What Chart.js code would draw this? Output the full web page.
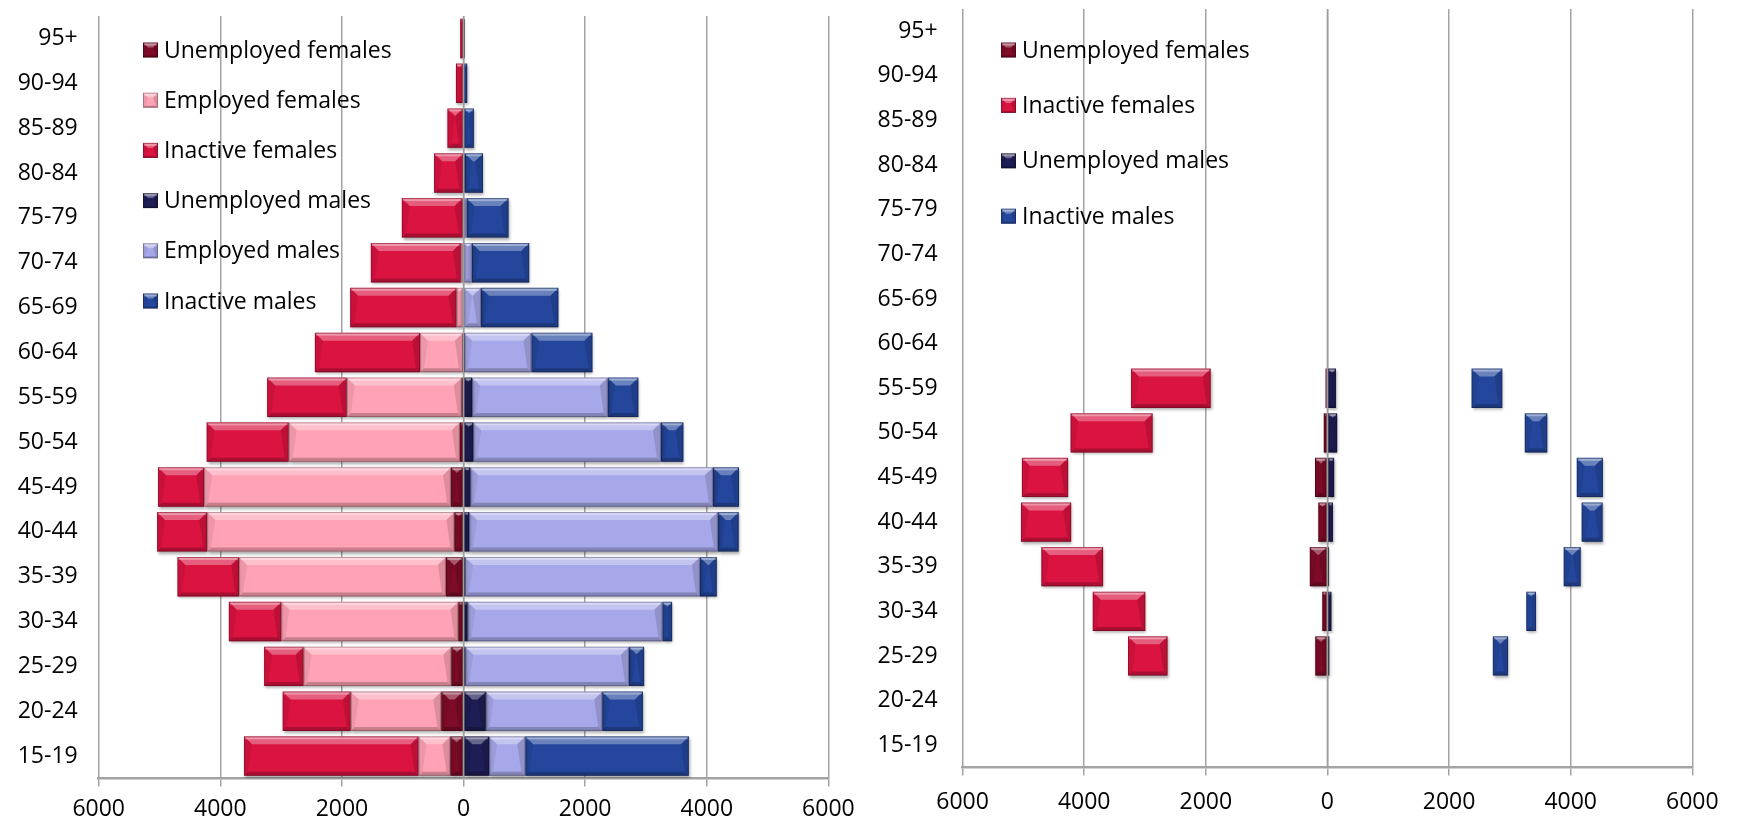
<!DOCTYPE html>
<html lang="en">

<head>
    <meta charset="UTF-8">
    <meta name="viewport" content="width=device-width, initial-scale=1.0">
    <script src="https://cdn.jsdelivr.net/npm/chart.js@4.4.1/dist/chart.umd.min.js"></script>
    <title>Population by age and labour status</title>
    <style>
        body { margin: 0; background: #ffffff; }
        .janela { position: relative; width: 1739px; height: 829px; }
        #box_esq { position: absolute; left: 0; top: 0; width: 880px; height: 829px; z-index: 2; }
        #box_dir { position: absolute; left: 850px; top: 0; width: 889px; height: 829px; z-index: 1; }
    </style>
</head>

<body>
    <div class="janela">
        <div id="box_esq"><canvas id="grafico_esq"></canvas></div>
        <div id="box_dir"><canvas id="grafico_dir"></canvas></div>
    </div>

<script>
    // age groups, top of the chart first
    var ages = ['95+', '90-94', '85-89', '80-84', '75-79', '70-74', '65-69', '60-64', '55-59',
        '50-54', '45-49', '40-44', '35-39', '30-34', '25-29', '20-24', '15-19'];

    // values in thousands (females drawn to the left)
    var unemployedFemales = [0, 0, 0, 0, 0, 0, 0, 10, 30, 60, 205, 150, 290, 85, 200, 365, 215];
    var employedFemales   = [0, 0, 0, 5, 15, 45, 115, 705, 1890, 2815, 4060, 4065, 3400, 2910, 2430, 1490, 525];
    var inactiveFemales   = [55, 125, 265, 480, 1000, 1480, 1750, 1730, 1310, 1350, 760, 825, 1015, 865, 650, 1120, 2870];
    var unemployedMales   = [0, 0, 0, 0, 0, 0, 0, 10, 140, 160, 110, 90, 25, 65, 30, 365, 420];
    var employedMales     = [0, 0, 0, 20, 50, 135, 285, 1105, 2230, 3085, 3990, 4090, 3860, 3205, 2690, 1915, 595];
    var inactiveMales     = [8, 60, 170, 300, 690, 945, 1275, 1005, 505, 370, 430, 345, 280, 160, 250, 670, 2690];

    // the right chart only keeps these age groups
    var rightAges = ['55-59', '50-54', '45-49', '40-44', '35-39', '30-34', '25-29'];

    var xTicks = [-6000, -4000, -2000, 0, 2000, 4000, 6000];

    var cores = {
        uF: '#7e0b27',
        eF: '#ffa2b5',
        iF: '#da1340',
        uM: '#1e1d55',
        eM: '#a7a8e9',
        iM: '#24479d'
    };

    Chart.defaults.font.family = "'Open Sans', sans-serif";
    Chart.defaults.color = '#000000';

    function neg(arr) {
        return arr.map(function (v) { return v == null ? null : -v; });
    }

    function soDireita(arr) {
        return arr.map(function (v, i) { return rightAges.indexOf(ages[i]) >= 0 ? v : null; });
    }

    function serie(label, data, cor, noLegend) {
        return {
            label: label,
            data: data,
            backgroundColor: cor,
            cor: cor,
            noLegend: !!noLegend,
            borderWidth: 0,
            barPercentage: 0.88,
            categoryPercentage: 1.0
        };
    }

    // draws the bevel look on every bar, using the bars placed by Chart.js
    function bevel(ctx, l, t, r, b, d, db) {
        var w = r - l, h = b - t;
        d = Math.min(d, w / 2, h / 2);
        db = Math.min(db, w / 2, h / 2);
        ctx.fillStyle = 'rgba(255,255,255,0.32)';
        ctx.beginPath();
        ctx.moveTo(l, t); ctx.lineTo(r, t); ctx.lineTo(r - d, t + d); ctx.lineTo(l + d, t + d);
        ctx.closePath(); ctx.fill();
        ctx.fillStyle = 'rgba(255,255,255,0.35)';
        ctx.fillRect(l + 1, t + 1, Math.max(w - 2, 0), Math.min(2, h));
        ctx.fillStyle = 'rgba(0,0,0,0.22)';
        ctx.beginPath();
        ctx.moveTo(l, b); ctx.lineTo(r, b); ctx.lineTo(r - db, b - db); ctx.lineTo(l + db, b - db);
        ctx.closePath(); ctx.fill();
        ctx.fillStyle = 'rgba(0,0,0,0.07)';
        ctx.beginPath();
        ctx.moveTo(l, t); ctx.lineTo(l + d, t + d); ctx.lineTo(l + db, b - db); ctx.lineTo(l, b);
        ctx.closePath(); ctx.fill();
        ctx.fillStyle = 'rgba(0,0,0,0.13)';
        ctx.beginPath();
        ctx.moveTo(r, t); ctx.lineTo(r - d, t + d); ctx.lineTo(r - db, b - db); ctx.lineTo(r, b);
        ctx.closePath(); ctx.fill();
        ctx.strokeStyle = 'rgba(0,0,0,0.25)';
        ctx.lineWidth = 1;
        ctx.strokeRect(l + 0.5, t + 0.5, Math.max(w - 1, 0), Math.max(h - 1, 0));
    }

    var pluginBarras = {
        id: 'barras3d',
        beforeDatasetsDraw: function (chart) {
            var ctx = chart.ctx;
            ctx.save();
            ctx.shadowColor = 'rgba(0,0,0,0.35)';
            ctx.shadowBlur = 3;
            ctx.shadowOffsetX = 1;
            ctx.shadowOffsetY = 2;
        },
        afterDatasetsDraw: function (chart) {
            var ctx = chart.ctx;
            ctx.restore();
            ctx.save();
            chart.data.datasets.forEach(function (ds, i) {
                if (ds.backgroundColor === 'rgba(0,0,0,0)') return;
                chart.getDatasetMeta(i).data.forEach(function (el, j) {
                    if (ds.data[j] == null || ds.data[j] === 0) return;
                    var p = el.getProps(['x', 'y', 'base', 'height'], true);
                    var l = Math.min(p.x, p.base), r = Math.max(p.x, p.base);
                    var t = p.y - p.height / 2, b = p.y + p.height / 2;
                    bevel(ctx, l, t, r, b, 8, 4);
                });
            });
            // axis at zero drawn over the bars
            var x0 = chart.scales.x.getPixelForValue(0);
            ctx.strokeStyle = '#9c9c9c';
            ctx.lineWidth = 1.5;
            ctx.beginPath();
            ctx.moveTo(x0, chart.chartArea.top);
            ctx.lineTo(x0, chart.chartArea.bottom);
            ctx.stroke();
            ctx.restore();
        },
        afterDraw: function (chart) {
            var o = chart.options.plugins.legendaCustom;
            var ctx = chart.ctx;
            var itens = chart.data.datasets.filter(function (ds) { return !ds.noLegend; });
            ctx.save();
            ctx.font = "23px 'Open Sans', sans-serif";
            ctx.textBaseline = 'middle';
            ctx.textAlign = 'left';
            itens.forEach(function (ds, k) {
                var y = o.y + k * o.step;
                ctx.fillStyle = ds.cor;
                ctx.fillRect(o.x, y - 7.5, 15, 15);
                bevel(ctx, o.x, y - 7.5, o.x + 15, y + 7.5, 5, 2);
                ctx.fillStyle = '#000000';
                ctx.fillText(ds.label, o.x + 21, y + 1);
            });
            ctx.restore();
        }
    };

    function opcoes(cfg) {
        return {
            indexAxis: 'y',
            responsive: true,
            maintainAspectRatio: false,
            animation: false,
            layout: { padding: { top: cfg.top, right: cfg.right, left: 0, bottom: 0 } },
            plugins: {
                legend: { display: false },
                tooltip: { enabled: false },
                legendaCustom: cfg.legenda
            },
            scales: {
                x: {
                    stacked: true,
                    min: -6000,
                    max: 6000,
                    afterBuildTicks: function (scale) {
                        scale.ticks = xTicks.map(function (v) { return { value: v }; });
                    },
                    ticks: {
                        font: { size: 23 },
                        color: '#000000',
                        padding: cfg.xPad,
                        maxRotation: 0,
                        callback: function (v) { return Math.abs(v); }
                    },
                    grid: { color: '#a3a3a3', lineWidth: 1.5, tickLength: 8, tickColor: '#a3a3a3' },
                    border: { display: true, color: '#a3a3a3', width: 2.5 },
                    afterFit: function (scale) {
                        scale.height = cfg.xHeight;
                        scale.paddingLeft = 0;
                        scale.paddingRight = 0;
                    }
                },
                y: {
                    stacked: true,
                    grid: { display: false, drawTicks: false },
                    border: { display: false },
                    ticks: { font: { size: 23 }, color: '#000000', padding: cfg.yPad, autoSkip: false },
                    afterFit: function (scale) {
                        scale.width = cfg.yWidth;
                        scale.paddingTop = 0;
                        scale.paddingBottom = 0;
                    }
                }
            }
        };
    }

    new Chart(document.getElementById('grafico_esq'), {
        type: 'bar',
        data: {
            labels: ages,
            datasets: [
                serie('Unemployed females', neg(unemployedFemales), cores.uF),
                serie('Employed females', neg(employedFemales), cores.eF),
                serie('Inactive females', neg(inactiveFemales), cores.iF),
                serie('Unemployed males', unemployedMales, cores.uM),
                serie('Employed males', employedMales, cores.eM),
                serie('Inactive males', inactiveMales, cores.iM)
            ]
        },
        options: opcoes({
            top: 16, right: 51.6, yWidth: 98.7, yPad: 21, xHeight: 50.5, xPad: 9,
            legenda: { x: 143, y: 50, step: 50.2 }
        }),
        plugins: [pluginBarras]
    });

    // right chart: same stacks, employed parts kept but not painted
    new Chart(document.getElementById('grafico_dir'), {
        type: 'bar',
        data: {
            labels: ages,
            datasets: [
                serie('Unemployed females', neg(soDireita(unemployedFemales)), cores.uF),
                serie('Employed females', neg(soDireita(employedFemales)), 'rgba(0,0,0,0)', true),
                serie('Inactive females', neg(soDireita(inactiveFemales)), cores.iF),
                serie('Unemployed males', soDireita(unemployedMales), cores.uM),
                serie('Employed males', soDireita(employedMales), 'rgba(0,0,0,0)', true),
                serie('Inactive males', soDireita(inactiveMales), cores.iM)
            ]
        },
        options: opcoes({
            top: 9, right: 46.7, yWidth: 112.6, yPad: 25, xHeight: 61.5, xPad: 13,
            legenda: { x: 151, y: 50, step: 55.4 }
        }),
        plugins: [pluginBarras]
    });
</script>
</body>

</html>
